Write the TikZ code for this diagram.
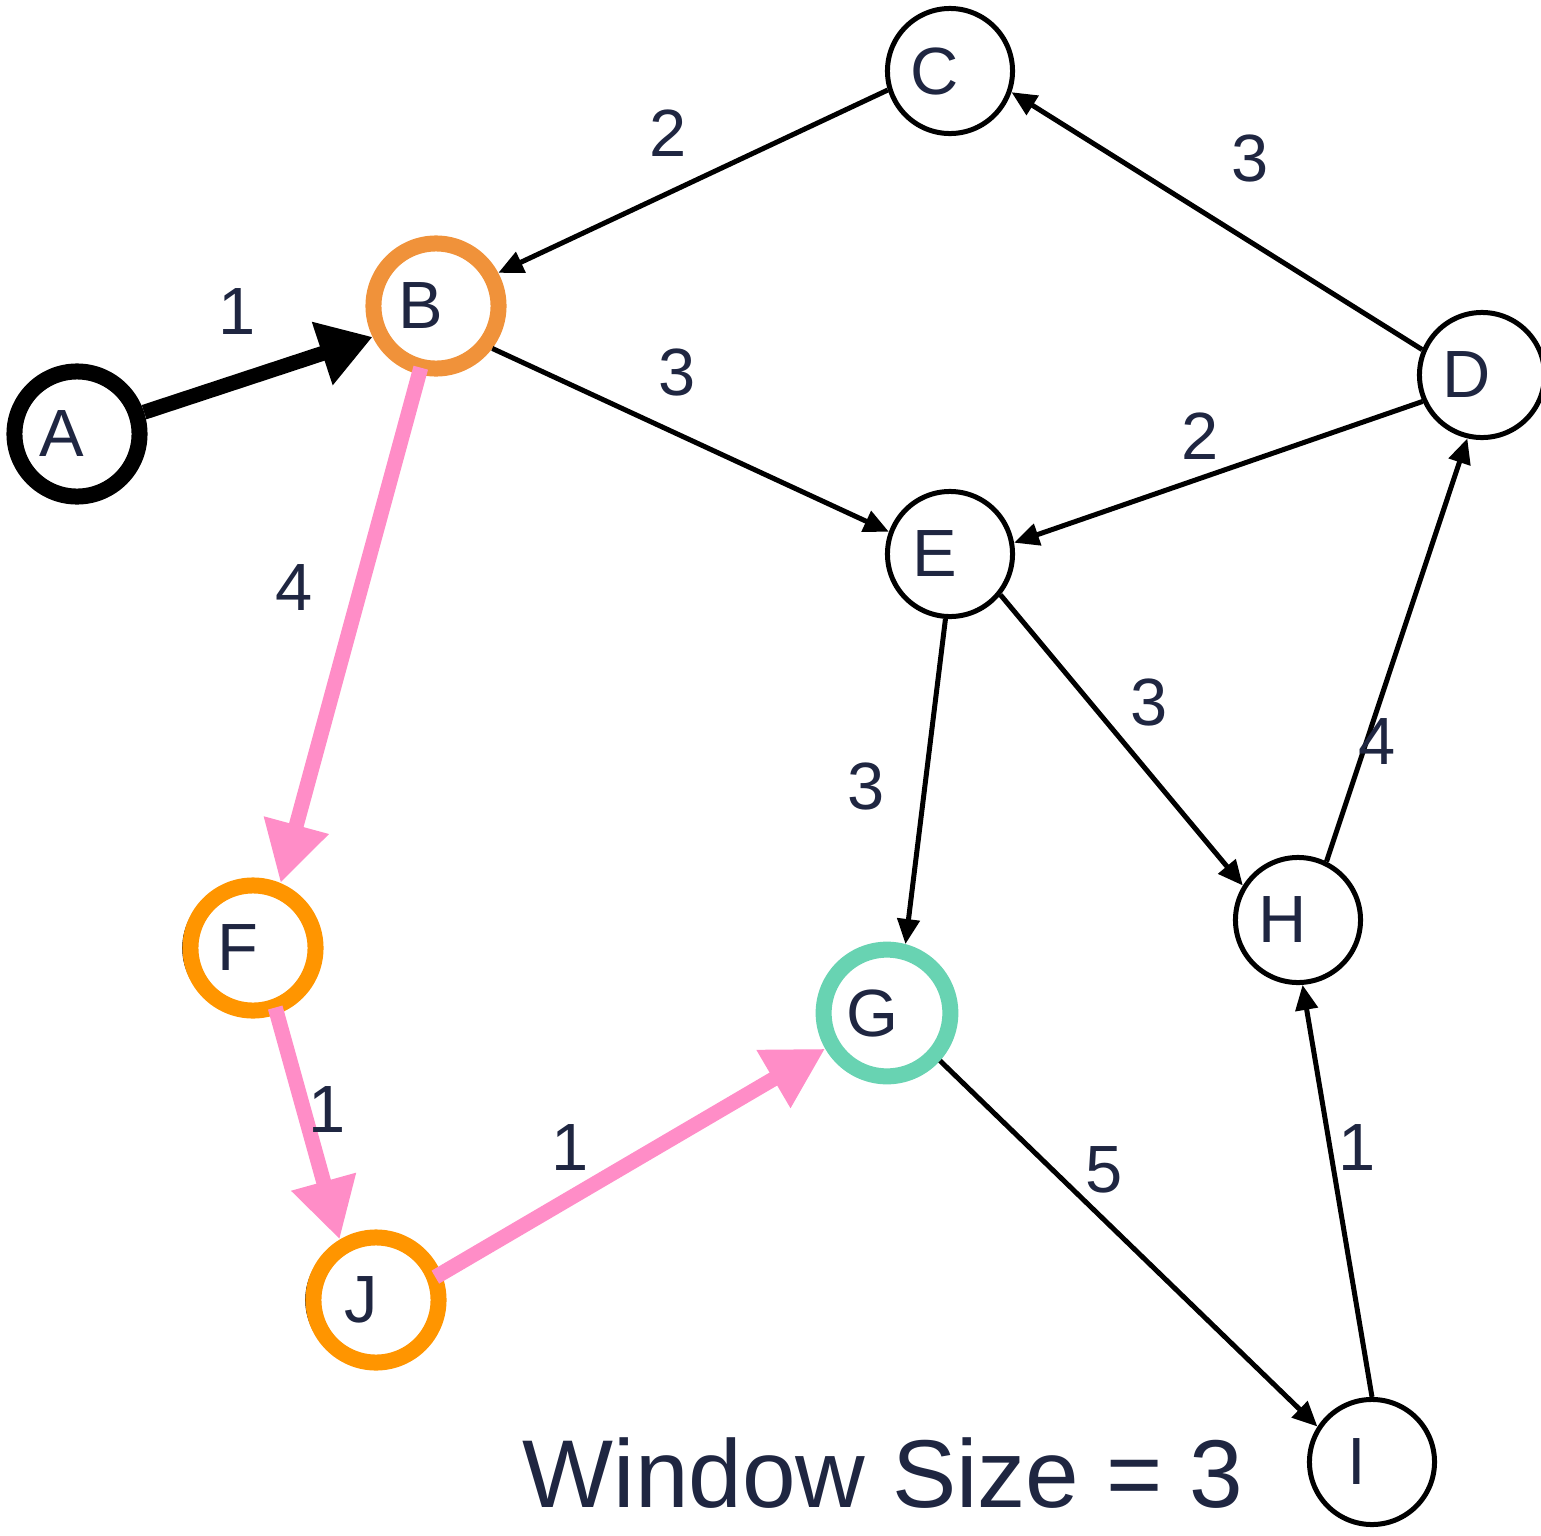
\documentclass[tikz,border=0pt]{standalone}
\usepackage{fontspec}
\setmainfont{Liberation Sans}
\usetikzlibrary{arrows.meta,calc,backgrounds}

\definecolor{ink}{HTML}{1F2641}
\definecolor{ringB}{HTML}{F0923A}
\definecolor{ringF}{HTML}{FF9500}
\definecolor{ringG}{HTML}{68D3B2}
\definecolor{pathpink}{HTML}{FF8DC7}

\begin{document}
\begin{tikzpicture}[x=0.01cm, y=-0.01cm,
  vertex/.style={circle, draw=black, line width=0.05cm, minimum size=1.25cm,
    fill=white, text=ink, font=\fontsize{19}{22}\selectfont,
    execute at end node={\hspace*{0.3cm}}},
  heavy/.style={vertex, line width=0.16cm},
  weight/.style={text=ink, inner sep=0pt, font=\fontsize{19}{22}\selectfont},
  link/.style={-{Triangle[length=0.25cm,width=0.22cm]}, line width=0.05cm},
  hop/.style={-{Triangle[length=0.6cm,width=0.63cm]}, draw=pathpink,
    line width=0.15cm, shorten <=-0.07cm}]

\useasboundingbox (0,0) rectangle (1541,1536);

% vertici
\node[heavy] (A) at (77,434) {A};
\node[heavy, draw=ringB] (B) at (436,306) {B};
\node[vertex] (C) at (950,71) {C};
\node[vertex] (D) at (1482,375) {D};
\node[vertex] (E) at (950,554) {E};
\node[heavy, draw=ringF, fill=none] (F) at (253,948) {F};
\node[heavy, draw=ringG] (G) at (887,1013) {G};
\node[vertex] (H) at (1298,920) {H};
\node[vertex] (I) at (1372,1462) {I};
\node[heavy, draw=ringF, fill=none] (J) at (376,1300) {J};

% bordo nero spostato sotto F e J
\begin{scope}[on background layer]
  \draw[line width=0.015cm, fill=white] ($(F)+(-7,0)$) circle (0.63cm);
  \draw[line width=0.015cm, fill=white] ($(J)+(-7,0)$) circle (0.63cm);
\end{scope}

% archi
\draw[link] (C.197) -- (B.28);
\draw[link] (D.157) -- (C.341);
\draw[link] (B.-37) -- (E.160);
\draw[link] (D.204) -- (E.10);
\draw[link] (E.-39) -- (H.148);
\draw[link] (H.64) -- (D.257);
\draw[link] (E.266) -- (G.75);
\draw[link] (G.-42) -- (I.147);
\draw[link] (I.90) -- (H.274);
\draw[-{Triangle[length=0.53cm,width=0.63cm]}, line width=0.15cm] (A.18) -- (B.206);

% cammino evidenziato
\draw[hop] (B.256) -- (F.67);
\draw[hop] (F.-70) -- (J.121);
\draw[hop] (J.22) -- (G.210);

% pesi
\node[weight] (wAB) at (237,312) {1};
\node[weight] (wCB) at (668,133) {2};
\node[weight] (wDC) at (1250,158) {3};
\node[weight] (wBE) at (677,372) {3};
\node[weight] (wDE) at (1200,436) {2};
\node[weight] (wBF) at (294,588) {4};
\node[weight] (wEH) at (1149,702) {3};
\node[weight] (wHD) at (1377,742) {4};
\node[weight] (wEG) at (866,786) {3};
\node[weight] (wFJ) at (327,1110) {1};
\node[weight] (wJG) at (570,1148) {1};
\node[weight] (wGI) at (1104,1170) {5};
\node[weight] (wIH) at (1357,1148) {1};

% didascalia
\node[anchor=base west, inner sep=0pt, text=ink,
  font=\fontsize{27.4}{32}\selectfont] (title) at (522,1507) {Window Size = 3};

\end{tikzpicture}
\end{document}
